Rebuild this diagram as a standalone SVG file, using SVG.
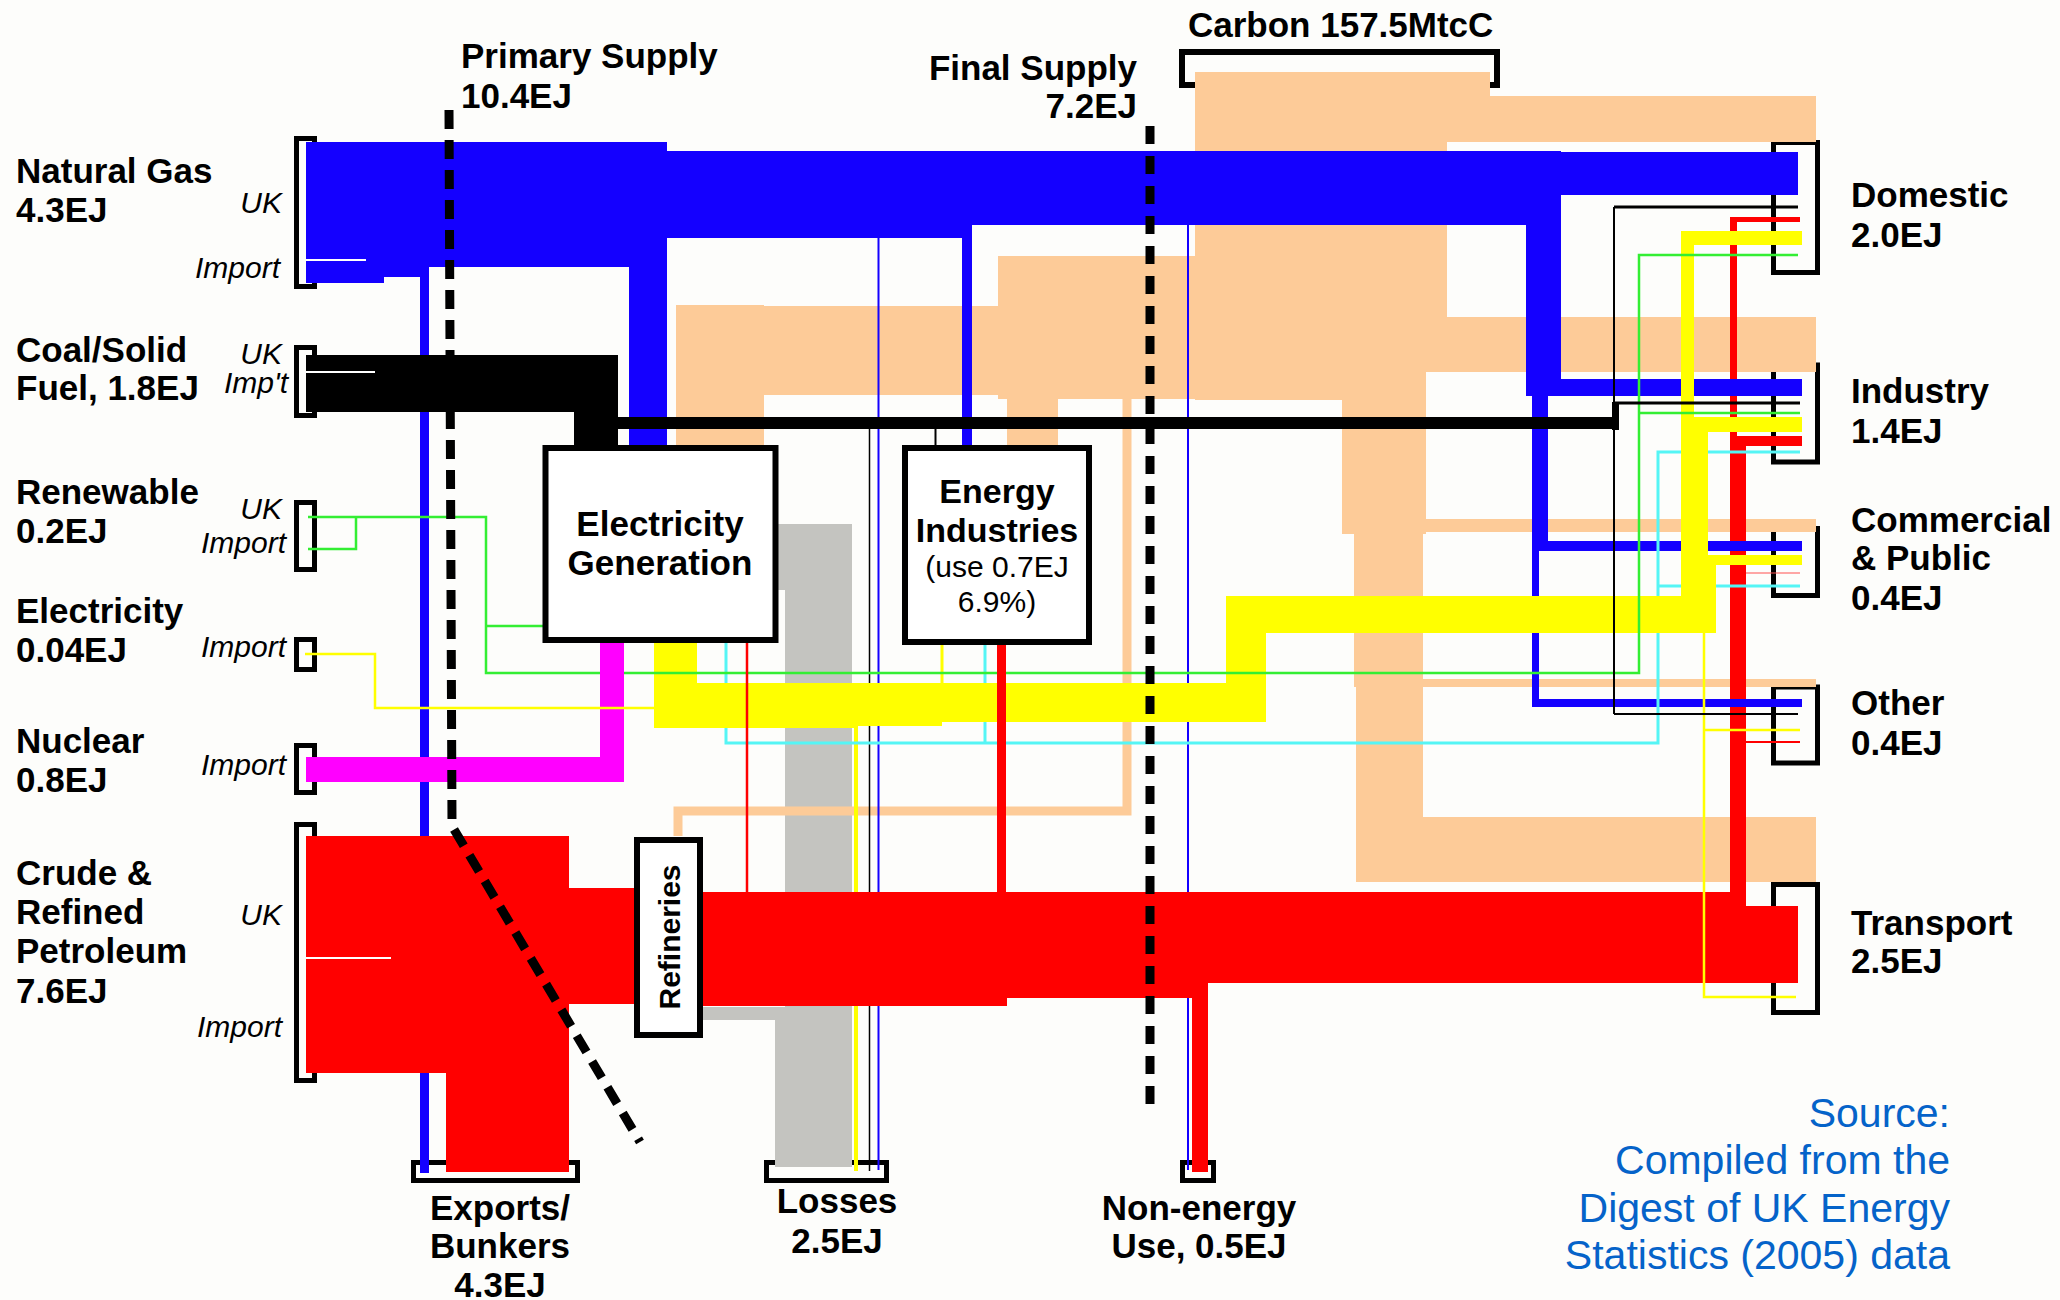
<svg xmlns="http://www.w3.org/2000/svg" width="2060" height="1300" viewBox="0 0 2060 1300">
<style>
.lbl{font-family:"Liberation Sans",Arial,sans-serif;font-weight:bold;font-size:35px;fill:#000}
.it{font-family:"Liberation Sans",Arial,sans-serif;font-style:italic;font-size:30px;fill:#000;text-anchor:end}
.sm{font-family:"Liberation Sans",Arial,sans-serif;font-size:30px;fill:#000}
.src{font-family:"Liberation Sans",Arial,sans-serif;font-size:41px;fill:#0563C9;text-anchor:end}
.mid{text-anchor:middle}
.brk{fill:none;stroke:#000;stroke-width:5}
.box{fill:#fff;stroke:#000;stroke-width:6}
.tan{fill:#FDCB98}
.grey{fill:#C4C4C0}
.red{fill:#FF0000}
.blue{fill:#1400FF}
.blk{fill:#000}
.yel{fill:#FFFF00}
.mag{fill:#FF00FF}
.ln{fill:none}
.dash{fill:none;stroke:#000;stroke-width:9}
</style>
<rect x="0" y="0" width="2060" height="1300" fill="#FDFDFB"/>

<!-- source nodes -->
<g id="node-natural-gas">
<rect class="brk" x="296.5" y="138.5" width="18" height="148"/>
<text class="lbl" x="16" y="183">Natural Gas</text>
<text class="lbl" x="16" y="222">4.3EJ</text>
<text class="it" x="282" y="213">UK</text>
<text class="it" x="280" y="278">Import</text>
</g>
<g id="node-coal">
<rect class="brk" x="296.5" y="347.5" width="18" height="68"/>
<text class="lbl" x="16" y="362">Coal/Solid</text>
<text class="lbl" x="16" y="400">Fuel, 1.8EJ</text>
<text class="it" x="282" y="364">UK</text>
<text class="it" x="288" y="393">Imp't</text>
</g>
<g id="node-renewable">
<rect class="brk" x="296.5" y="502.5" width="18" height="67"/>
<text class="lbl" x="16" y="504">Renewable</text>
<text class="lbl" x="16" y="543">0.2EJ</text>
<text class="it" x="282" y="519">UK</text>
<text class="it" x="286" y="553">Import</text>
</g>
<g id="node-electricity">
<rect class="brk" x="296.5" y="639.5" width="18" height="30"/>
<text class="lbl" x="16" y="623">Electricity</text>
<text class="lbl" x="16" y="662">0.04EJ</text>
<text class="it" x="286" y="657">Import</text>
</g>
<g id="node-nuclear">
<rect class="brk" x="296.5" y="745.5" width="18" height="47"/>
<text class="lbl" x="16" y="753">Nuclear</text>
<text class="lbl" x="16" y="792">0.8EJ</text>
<text class="it" x="286" y="775">Import</text>
</g>
<g id="node-petroleum">
<rect class="brk" x="296.5" y="824.5" width="18" height="256"/>
<text class="lbl" x="16" y="885">Crude &amp;</text>
<text class="lbl" x="16" y="924">Refined</text>
<text class="lbl" x="16" y="963">Petroleum</text>
<text class="lbl" x="16" y="1003">7.6EJ</text>
<text class="it" x="282" y="925">UK</text>
<text class="it" x="282" y="1037">Import</text>
</g>

<!-- sink nodes -->
<g id="node-domestic">
<rect class="brk" x="1773.5" y="142.5" width="44" height="130"/>
<text class="lbl" x="1851" y="207">Domestic</text>
<text class="lbl" x="1851" y="247">2.0EJ</text>
</g>
<g id="node-industry">
<rect class="brk" x="1773.5" y="365" width="44" height="97"/>
<text class="lbl" x="1851" y="403">Industry</text>
<text class="lbl" x="1851" y="443">1.4EJ</text>
</g>
<g id="node-commercial">
<rect class="brk" x="1773.5" y="528.5" width="44" height="67"/>
<text class="lbl" x="1851" y="532">Commercial</text>
<text class="lbl" x="1851" y="570">&amp; Public</text>
<text class="lbl" x="1851" y="610">0.4EJ</text>
</g>
<g id="node-other">
<rect class="brk" x="1773.5" y="687" width="44" height="76"/>
<text class="lbl" x="1851" y="715">Other</text>
<text class="lbl" x="1851" y="755">0.4EJ</text>
</g>
<g id="node-transport">
<rect class="brk" x="1773.5" y="884.5" width="44" height="128"/>
<text class="lbl" x="1851" y="935">Transport</text>
<text class="lbl" x="1851" y="973">2.5EJ</text>
</g>
<g id="node-exports">
<rect class="brk" x="413.5" y="1162.5" width="164" height="18"/>
<text class="lbl mid" x="500" y="1220">Exports/</text>
<text class="lbl mid" x="500" y="1258">Bunkers</text>
<text class="lbl mid" x="500" y="1297">4.3EJ</text>
</g>
<g id="node-losses">
<rect class="brk" x="766.5" y="1162.5" width="120" height="18"/>
<text class="lbl mid" x="837" y="1213">Losses</text>
<text class="lbl mid" x="837" y="1253">2.5EJ</text>
</g>
<g id="node-non-energy">
<rect class="brk" x="1182.5" y="1162.5" width="31" height="18"/>
<text class="lbl mid" x="1199" y="1220">Non-energy</text>
<text class="lbl mid" x="1199" y="1258">Use, 0.5EJ</text>
</g>
<g id="node-carbon">
<path class="ln" stroke="#000" stroke-width="6" d="M1195,85 H1182 V52 H1497 V85 H1490"/>
<text class="lbl" x="1188" y="37">Carbon 157.5MtcC</text>
</g>

<!-- connectors -->
<g id="connectors">
<g id="carbon" class="tan">
<rect x="676" y="305" width="88" height="140"/>
<rect x="764" y="306" width="234" height="89"/>
<rect x="998" y="256" width="197" height="143"/>
<rect x="1195" y="72" width="231" height="328"/>
<rect x="1426" y="72" width="21" height="300"/>
<rect x="1447" y="72" width="43" height="70"/>
<rect x="1490" y="96" width="326" height="46"/>
<rect x="1426" y="317" width="390" height="55"/>
<rect x="1342" y="399" width="84" height="135"/>
<rect x="1426" y="519" width="390" height="13"/>
<rect x="1354" y="532" width="69" height="155"/>
<rect x="1423" y="679" width="393" height="8"/>
<rect x="1356" y="687" width="67" height="130"/>
<rect x="1356" y="817" width="460" height="65"/>
<rect x="1007" y="395" width="51" height="50"/>
</g>
<g id="losses-flow" class="grey">
<rect x="776" y="524" width="76" height="66"/>
<rect x="785" y="590" width="67" height="577"/>
<rect x="703" y="1007" width="82" height="13"/>
<rect x="775" y="1020" width="10" height="147"/>
</g>
<path class="ln" stroke="#FDCB98" stroke-width="9" d="M678,836 V811 H1127 V398"/>
<g id="thin-to-losses" class="ln">
<path stroke="#FFFF00" stroke-width="4" d="M856,726 V1171"/>
<path stroke="#000" stroke-width="1.5" d="M869.5,429 V1171"/>
<path stroke="#1400FF" stroke-width="2" d="M878.5,238 V1170"/>
<path stroke="#1400FF" stroke-width="2" d="M1188,225 V1170"/>
</g>
<rect class="blue" x="420" y="267" width="9" height="906"/>
<g id="petroleum-flow" class="red">
<rect x="306" y="836" width="263" height="237"/>
<rect x="446" y="1073" width="123" height="99"/>
<rect x="569" y="888" width="67" height="116"/>
<rect x="700" y="892" width="307" height="114"/>
<rect x="1007" y="892" width="185" height="106"/>
<rect x="1192" y="892" width="16" height="280"/>
<rect x="1208" y="892" width="533" height="91"/>
<rect x="1741" y="906" width="57" height="77"/>
<rect x="1730" y="436" width="16" height="470"/>
<rect x="1730" y="217" width="7" height="229"/>
<rect x="1730" y="217" width="70" height="5"/>
<rect x="1737" y="436" width="65" height="10"/>
</g>
<path class="ln" stroke="#FF5050" stroke-width="1.2" d="M1746,573 H1800"/>
<path class="ln" stroke="#FF0000" stroke-width="2" d="M1746,742 H1800"/>
<g id="gas-flow" class="blue">
<rect x="306" y="142" width="357" height="125"/>
<rect x="306" y="267" width="78" height="16"/>
<rect x="384" y="267" width="36" height="10"/>
<rect x="629" y="142" width="38" height="303"/>
<rect x="663" y="151" width="309" height="87"/>
<rect x="962" y="238" width="10" height="209"/>
<rect x="972" y="151" width="554" height="74"/>
<rect x="1526" y="151" width="35" height="245"/>
<rect x="1561" y="152" width="237" height="43"/>
<rect x="1561" y="379" width="241" height="17"/>
<rect x="1532" y="396" width="16" height="155"/>
<rect x="1548" y="541" width="254" height="10"/>
<rect x="1532" y="551" width="7" height="156"/>
<rect x="1539" y="699" width="263" height="8"/>
</g>
<g id="coal-flow" class="blk">
<rect x="306" y="355" width="312" height="57"/>
<rect x="574" y="412" width="44" height="33"/>
<rect x="618" y="417" width="1001" height="12"/>
<rect x="1612" y="402" width="7" height="28"/>
</g>
<path class="ln" stroke="#000" stroke-width="2" d="M935.5,429 V446"/>
<g id="heat-flow" class="ln" stroke="#55F5F5" stroke-width="3">
<path d="M726,643 V743 H1658 V452 H1800"/>
<path d="M1658,586 H1800"/>
<path d="M985,645 V743"/>
</g>
<g id="electricity-flow">
<path class="yel" d="M654,641 H697 V683 H1226 V596 H1716 V633 H1266 V722 H942 V726 H856 V728 H654 Z"/>
<rect class="yel" x="1681" y="231" width="13" height="402"/>
<rect class="yel" x="1694" y="432" width="14" height="201"/>
<rect class="yel" x="1708" y="555" width="8" height="78"/>
<rect class="yel" x="1681" y="231" width="121" height="14"/>
<rect class="yel" x="1694" y="417" width="108" height="15"/>
<rect class="yel" x="1708" y="555" width="94" height="10"/>
<path class="ln" stroke="#FFFF00" stroke-width="2.5" d="M1704,633 V997 H1796 M1704,730 H1800"/>
<path class="ln" stroke="#FFFF00" stroke-width="3" d="M942,645 V683"/>
</g>
<g id="renewable-flow" class="ln" stroke="#33EE33" stroke-width="2.5">
<path d="M308,517 H486 V673 H1639 V255 H1798"/>
<path d="M308,549 H356 V517"/>
<path d="M486,626 H545"/>
<path d="M1639,413 H1800"/>
</g>
<g id="nuclear-flow">
<path class="mag" d="M306,757 H600 V643 H624 V782 H306 Z"/>
</g>
<path class="ln" stroke="#FFFF00" stroke-width="2.5" d="M305,654 H375 V708 H654"/>
<path class="ln" stroke="#FF0000" stroke-width="2.5" d="M747,643 V892"/>
<rect class="red" x="997" y="645" width="9" height="247"/>
<g id="coal-end-uses" class="ln" stroke="#000">
<path stroke-width="2" d="M1614,207 V714"/>
<path stroke-width="3" d="M1614,207 H1798"/>
<path stroke-width="3" d="M1614,403 H1800"/>
<path stroke-width="2" d="M1614,714 H1798"/>
</g>
<g class="ln" stroke="#FFFFFF" stroke-width="2">
<path d="M306,260 H366"/>
<path d="M306,372 H375"/>
<path d="M306,958 H391"/>
</g>
</g>

<!-- process nodes -->
<g id="node-electricity-generation">
<rect class="box" x="545.5" y="448" width="230" height="192"/>
<text class="lbl mid" x="660" y="536">Electricity</text>
<text class="lbl mid" x="660" y="575">Generation</text>
</g>
<g id="node-energy-industries">
<rect class="box" x="905" y="448" width="184" height="194"/>
<text class="lbl mid" x="997" y="503" style="font-size:34px">Energy</text>
<text class="lbl mid" x="997" y="542" style="font-size:34px">Industries</text>
<text class="sm mid" x="997" y="577">(use 0.7EJ</text>
<text class="sm mid" x="997" y="612">6.9%)</text>
</g>
<g id="node-refineries">
<rect class="box" x="637" y="840" width="63" height="195"/>
<text class="lbl mid" style="font-size:30px" transform="translate(680,937) rotate(-90)">Refineries</text>
</g>

<!-- annotations -->
<g id="supply-lines">
<path class="dash" stroke-dasharray="19 11" d="M449,110 L452,826 L640,1142"/>
<path class="dash" stroke-dasharray="18 12" d="M1150,126 V1113"/>
<text class="lbl" x="461" y="68">Primary Supply</text>
<text class="lbl" x="461" y="108">10.4EJ</text>
<text class="lbl" x="1137" y="80" text-anchor="end">Final Supply</text>
<text class="lbl" x="1137" y="118" text-anchor="end">7.2EJ</text>
</g>
<g id="source-note">
<text class="src" x="1950" y="1127">Source:</text>
<text class="src" x="1950" y="1174">Compiled from the</text>
<text class="src" x="1950" y="1222">Digest of UK Energy</text>
<text class="src" x="1950" y="1269">Statistics (2005) data</text>
</g>
</svg>
